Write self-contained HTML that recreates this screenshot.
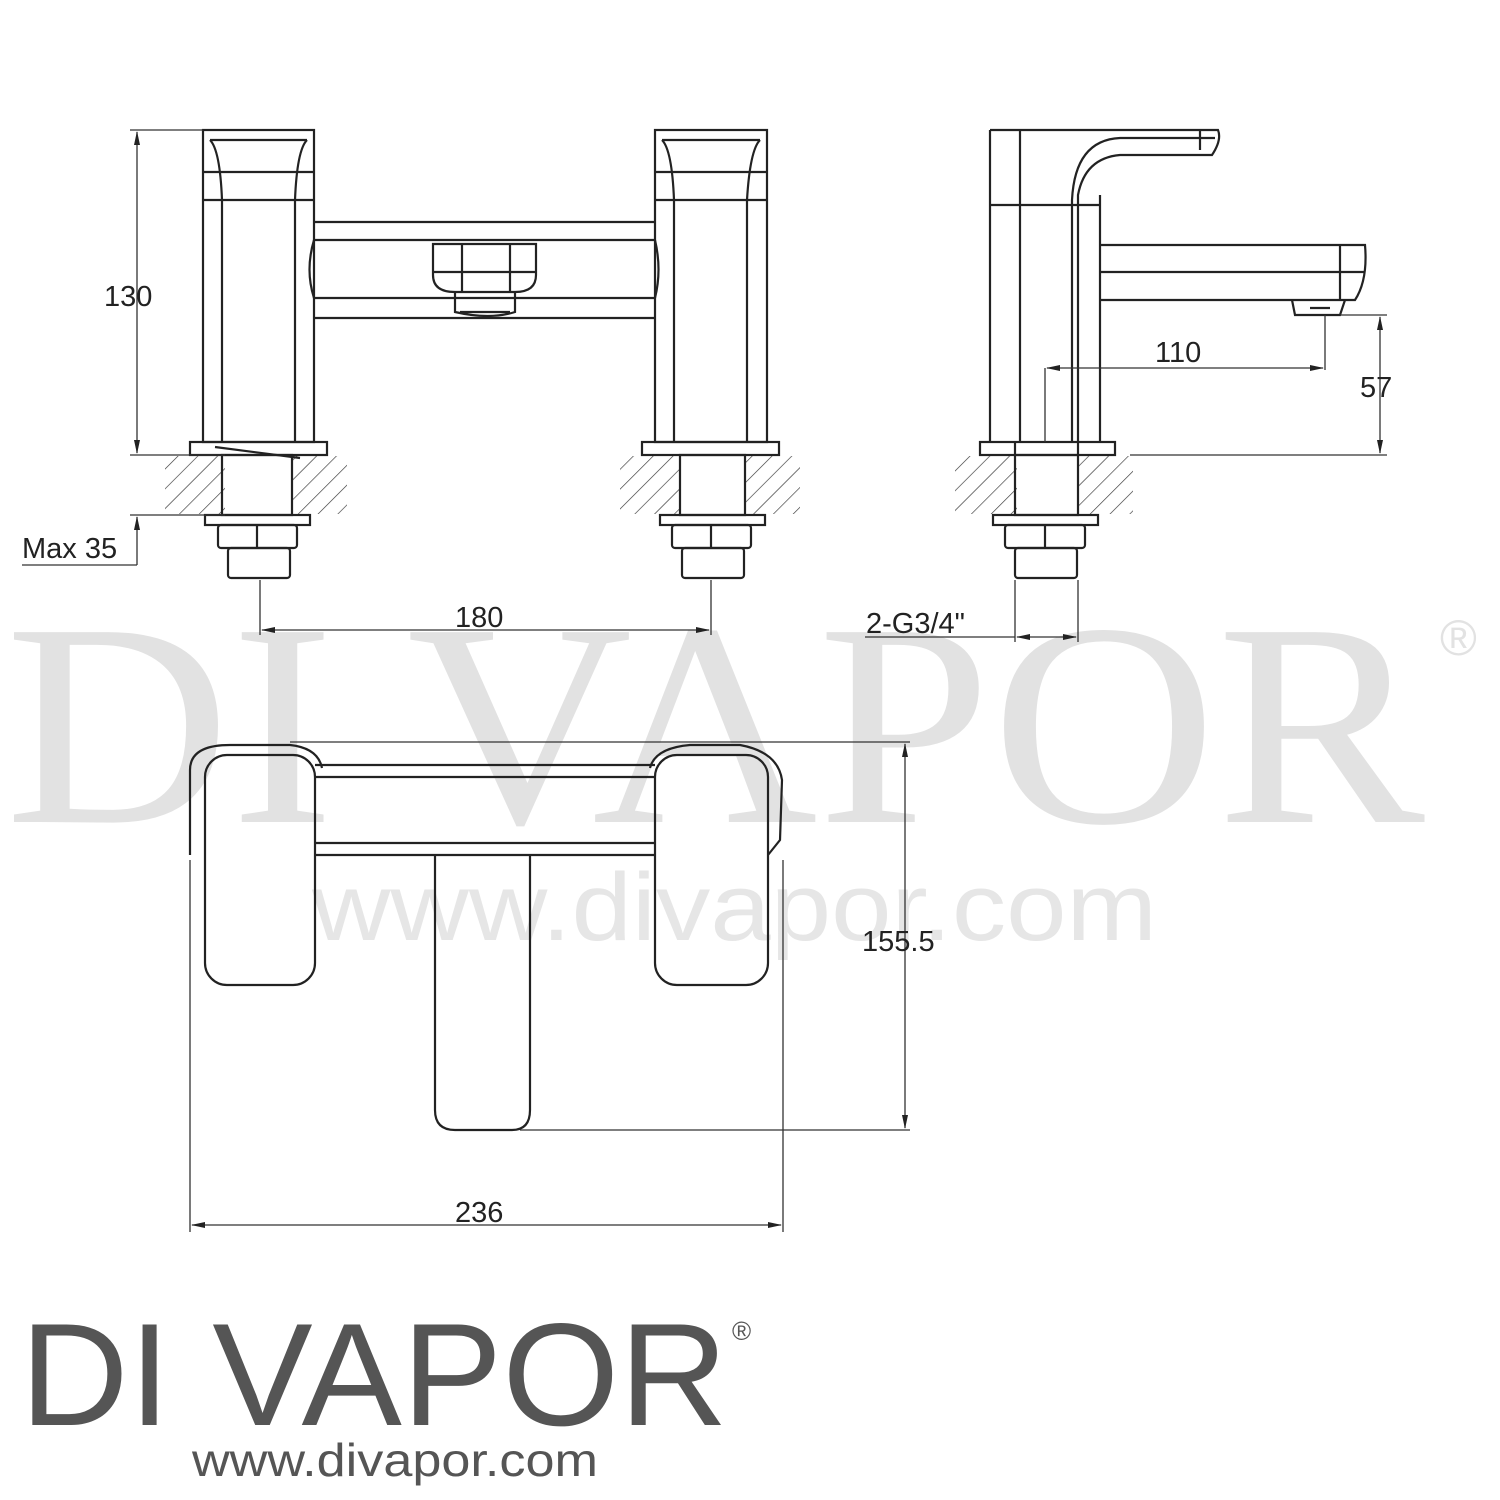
<!DOCTYPE html>
<html><head><meta charset="utf-8"><style>html,body{margin:0;padding:0;background:#fff}svg{display:block}</style></head>
<body>
<svg width="1500" height="1500" viewBox="0 0 1500 1500" xmlns="http://www.w3.org/2000/svg">
<defs>
<pattern id="h" width="14" height="14" patternUnits="userSpaceOnUse" patternTransform="rotate(45)">
<line x1="0" y1="0" x2="0" y2="14" stroke="#333" stroke-width="1.3"/></pattern>
<marker id="a" markerWidth="14" markerHeight="8" refX="13" refY="4" orient="auto-start-reverse" markerUnits="userSpaceOnUse"><path d="M0,1 L14,4 L0,7 z" fill="#222"/></marker>
</defs>
<!-- watermark -->
<text x="5" y="822" font-family="Liberation Serif, serif" font-size="290" fill="#e2e2e2" textLength="1420" lengthAdjust="spacingAndGlyphs">DI VAPOR</text>
<text x="1440" y="655" font-family="Liberation Sans, sans-serif" font-size="50" fill="#e2e2e2">®</text>
<text x="312" y="940" font-family="Liberation Sans, sans-serif" font-size="96" fill="#e6e6e6" textLength="845" lengthAdjust="spacingAndGlyphs">www.divapor.com</text>

<g fill="none" stroke="#222" stroke-width="2.2">
<!-- hatch areas -->
<rect x="165" y="456" width="60" height="58" fill="url(#h)" stroke="none"/>
<rect x="292" y="456" width="55" height="58" fill="url(#h)" stroke="none"/>
<rect x="620" y="456" width="60" height="58" fill="url(#h)" stroke="none"/>
<rect x="745" y="456" width="55" height="58" fill="url(#h)" stroke="none"/>
<rect x="955" y="456" width="62" height="58" fill="url(#h)" stroke="none"/>
<rect x="1078" y="456" width="55" height="58" fill="url(#h)" stroke="none"/>

<!-- left tap -->
<rect x="203" y="130" width="111" height="312"/>
<line x1="222" y1="200" x2="222" y2="442"/><line x1="295" y1="200" x2="295" y2="442"/>
<line x1="203" y1="200" x2="314" y2="200"/><line x1="203" y1="172" x2="314" y2="172"/>
<path d="M210,140 Q220,150 222,200 M307,140 Q297,150 295,200 M210,140 L307,140"/>
<rect x="190" y="442" width="137" height="13"/>
<rect x="222" y="455" width="70" height="60"/>
<path d="M215,447 L300,458"/>
<rect x="205" y="515" width="105" height="10"/>
<rect x="218" y="525" width="79" height="23" rx="3"/>
<line x1="257" y1="525" x2="257" y2="548"/>
<rect x="228" y="548" width="62" height="30" rx="3"/>
<!-- bridge -->
<path d="M314,222 L655,222 M314,318 L655,318 M314,240 L655,240 M314,298 L655,298 M314,240 Q305,270 314,298 M655,240 Q662,270 655,298"/>
<path d="M433,244 L536,244 L536,275 Q536,292 515,292 L455,292 Q433,292 433,275 Z M462,244 L462,292 M510,244 L510,292 M433,272 L536,272"/>
<path d="M455,292 L455,312 Q490,320 515,312 L515,292 M460,312 L510,312"/>
<!-- right tap -->
<rect x="655" y="130" width="112" height="312"/>
<line x1="674" y1="200" x2="674" y2="442"/><line x1="747" y1="200" x2="747" y2="442"/>
<line x1="655" y1="200" x2="767" y2="200"/><line x1="655" y1="172" x2="767" y2="172"/>
<path d="M662,140 Q672,150 674,200 M760,140 Q750,150 747,200 M662,140 L760,140"/>
<rect x="642" y="442" width="137" height="13"/>
<rect x="680" y="455" width="65" height="60"/>
<rect x="660" y="515" width="105" height="10"/>
<rect x="672" y="525" width="79" height="23" rx="3"/>
<line x1="711" y1="525" x2="711" y2="548"/>
<rect x="682" y="548" width="62" height="30" rx="3"/>

<!-- side view -->
<path d="M990,130 L1218,130 Q1222,140 1212,155 L1120,155 Q1085,158 1078,195 L1078,442 M1072,442 L1072,200 Q1075,140 1120,138 L1215,138 M1200,130 L1200,150"/>
<rect x="990" y="130" width="110" height="312" stroke="none"/>
<line x1="990" y1="130" x2="990" y2="442"/><line x1="1020" y1="130" x2="1020" y2="442"/><line x1="1100" y1="195" x2="1100" y2="442"/>
<line x1="990" y1="205" x2="1100" y2="205"/>
<path d="M1100,245 L1365,245 Q1368,280 1355,300 L1100,300 M1100,272 L1365,272 M1340,245 L1340,300"/>
<path d="M1292,300 L1295,315 L1340,315 L1345,300 M1310,308 L1330,308"/>
<rect x="980" y="442" width="135" height="13"/>
<line x1="1015" y1="442" x2="1015" y2="455"/><line x1="1078" y1="442" x2="1078" y2="455"/>
<rect x="1015" y="455" width="63" height="60"/>
<rect x="993" y="515" width="105" height="10"/>
<rect x="1005" y="525" width="80" height="23" rx="3"/>
<line x1="1045" y1="525" x2="1045" y2="548"/>
<rect x="1015" y="548" width="62" height="30" rx="3"/>

<!-- top view -->
<path d="M190,855 L190,770 Q190,745 230,745 L290,745 Q318,748 322,768"/>
<rect x="205" y="755" width="110" height="230" rx="22"/>
<path d="M768,855 L780,840 L782,780 Q778,752 740,745 L690,745 Q655,748 650,768"/>
<rect x="655" y="755" width="113" height="230" rx="22"/>
<line x1="315" y1="765" x2="655" y2="765"/><line x1="315" y1="855" x2="655" y2="855"/>
<line x1="315" y1="777" x2="655" y2="777"/><line x1="315" y1="843" x2="655" y2="843"/>
<path d="M435,855 L435,1110 Q435,1130 455,1130 L512,1130 Q530,1130 530,1110 L530,855"/>
</g>

<!-- dimensions -->
<g stroke="#333" stroke-width="1.3" fill="none">
<line x1="137" y1="132" x2="137" y2="453" marker-start="url(#a)" marker-end="url(#a)"/>
<line x1="130" y1="130" x2="203" y2="130"/>
<line x1="130" y1="455" x2="225" y2="455"/><line x1="130" y1="515" x2="225" y2="515"/>
<line x1="137" y1="565" x2="137" y2="517" marker-end="url(#a)"/>
<line x1="22" y1="565" x2="137" y2="565"/>
<line x1="260" y1="580" x2="260" y2="635"/><line x1="711" y1="580" x2="711" y2="635"/>
<line x1="262" y1="630" x2="709" y2="630" marker-start="url(#a)" marker-end="url(#a)"/>
<line x1="1045" y1="368" x2="1045" y2="442"/><line x1="1325" y1="315" x2="1325" y2="370"/>
<line x1="1047" y1="368" x2="1323" y2="368" marker-start="url(#a)" marker-end="url(#a)"/>
<line x1="1340" y1="315" x2="1387" y2="315"/><line x1="1130" y1="455" x2="1387" y2="455"/>
<line x1="1380" y1="317" x2="1380" y2="453" marker-start="url(#a)" marker-end="url(#a)"/>
<line x1="1015" y1="580" x2="1015" y2="642"/><line x1="1078" y1="580" x2="1078" y2="642"/>
<line x1="865" y1="637" x2="1015" y2="637"/>
<line x1="1017" y1="637" x2="1076" y2="637" marker-start="url(#a)" marker-end="url(#a)"/>
<line x1="290" y1="742" x2="910" y2="742"/><line x1="520" y1="1130" x2="910" y2="1130"/>
<line x1="905" y1="744" x2="905" y2="1128" marker-start="url(#a)" marker-end="url(#a)"/>
<line x1="190" y1="860" x2="190" y2="1232"/><line x1="783" y1="860" x2="783" y2="1232"/>
<line x1="192" y1="1225" x2="781" y2="1225" marker-start="url(#a)" marker-end="url(#a)"/>
</g>
<g font-family="Liberation Sans, sans-serif" font-size="29" fill="#222">
<text x="104" y="306">130</text>
<text x="22" y="558">Max 35</text>
<text x="455" y="627">180</text>
<text x="1155" y="362">110</text>
<text x="1360" y="397">57</text>
<text x="866" y="633">2-G3/4"</text>
<text x="862" y="951">155.5</text>
<text x="455" y="1222">236</text>
</g>
<!-- logo -->
<text x="20" y="1425" font-family="Liberation Sans, sans-serif" font-weight="normal" font-size="146" fill="#555" textLength="708" lengthAdjust="spacingAndGlyphs">DI VAPOR</text>
<text x="732" y="1340" font-family="Liberation Sans, sans-serif" font-size="26" fill="#555">®</text>
<text x="192" y="1476" font-family="Liberation Sans, sans-serif" font-size="46" fill="#555" textLength="406" lengthAdjust="spacingAndGlyphs">www.divapor.com</text>
</svg>
</body></html>
